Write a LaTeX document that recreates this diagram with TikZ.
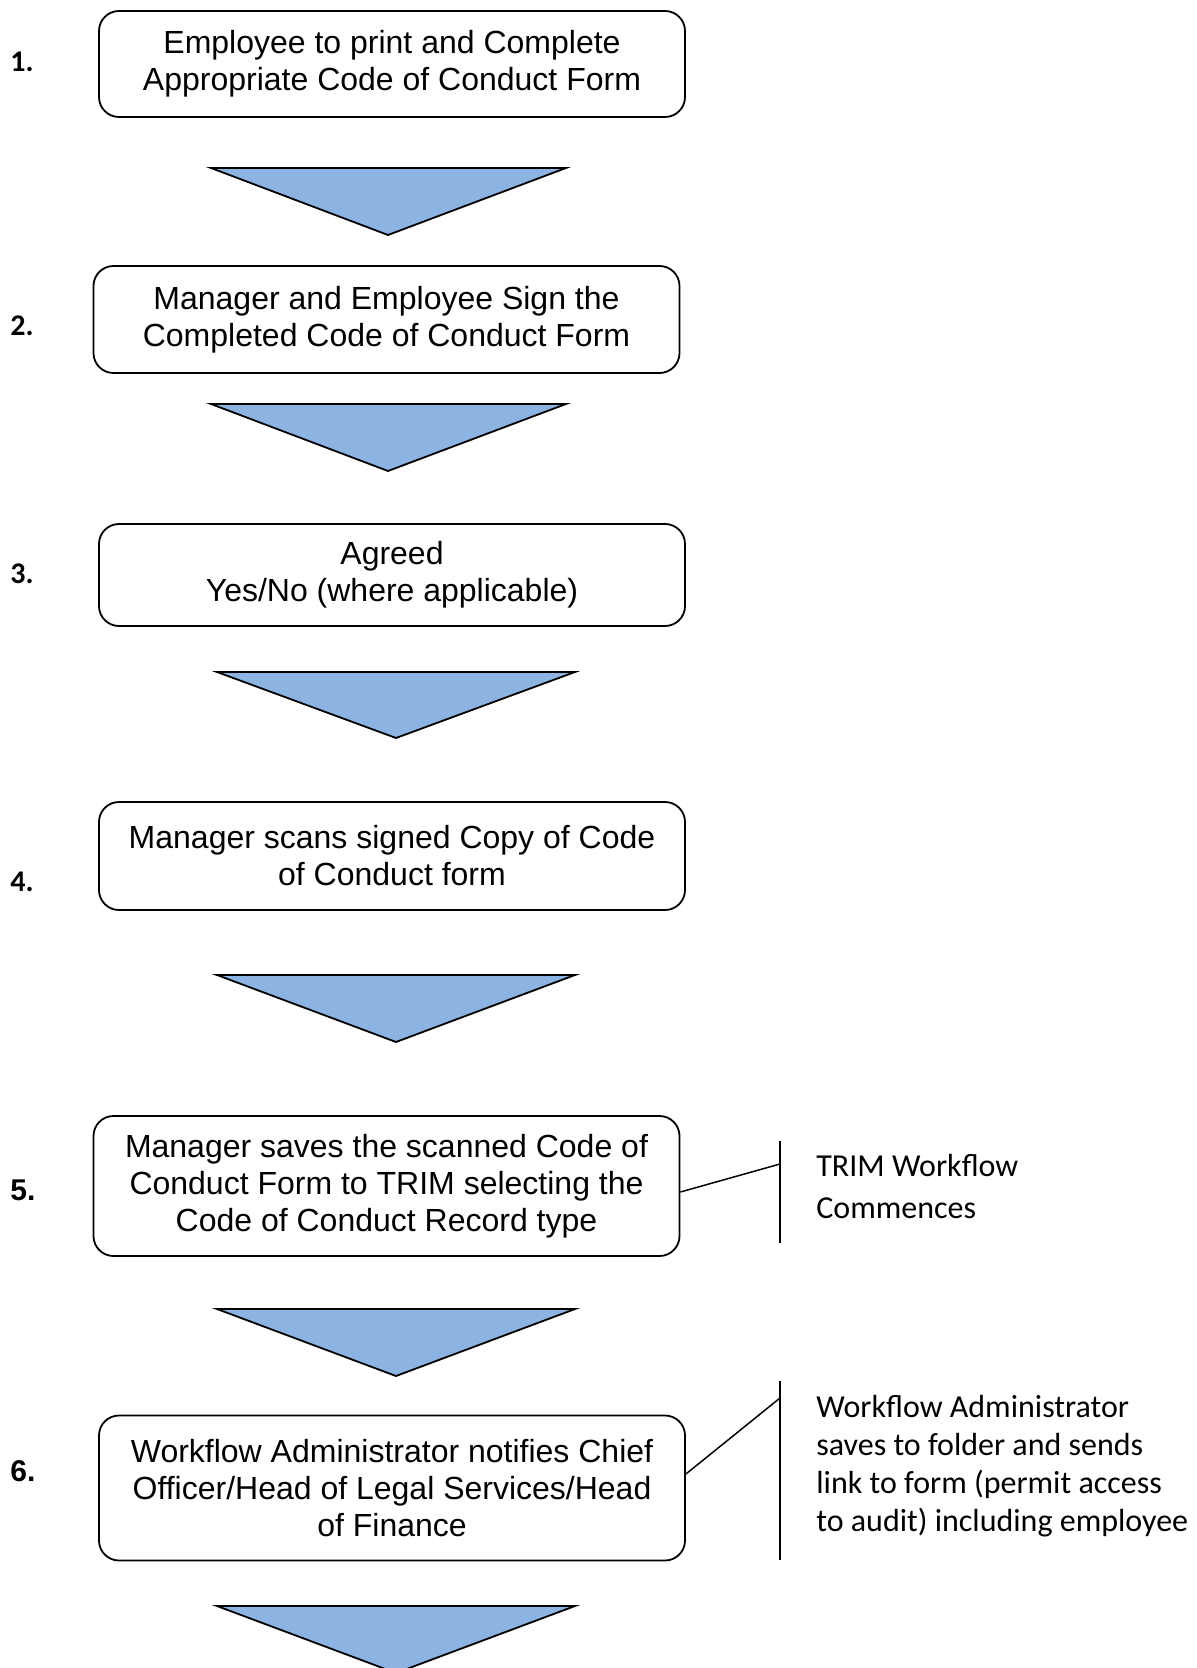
\documentclass[tikz,border=0pt]{standalone}
\usepackage{fontspec}
\setmainfont{Liberation Sans}
\newfontfamily\calibrifont{Carlito}
\definecolor{arrowblue}{RGB}{141,179,226}
\begin{document}
\begin{tikzpicture}[x=0.5pt, y=-0.5pt,
	stepbox/.style={draw, line width=0.9pt, rounded corners=10pt, align=center, inner sep=0pt, minimum width=293pt, font=\fontsize{16}{18.5}\selectfont},
	downtri/.style={draw, line width=0.9pt, fill=arrowblue, line join=miter},
	steplabel/.style={anchor=west, inner sep=0pt, font=\calibrifont\bfseries\fontsize{15}{17}\selectfont},
	steplabelb/.style={anchor=west, inner sep=0pt, font=\bfseries\fontsize{15}{17}\selectfont},
	notetext/.style={anchor=west, align=left, inner sep=0pt},
	noteline/.style={line width=0.75pt}]
	\clip (0,0) rectangle (1197,1668);
	
	% Steps
	\node[stepbox, minimum height=53pt] (box1) at (392,64) {Employee to print and Complete\\Appropriate Code of Conduct Form};
	\node[stepbox, minimum height=53.5pt] (box2) at (386.5,319.5) {Manager and Employee Sign the\\Completed Code of Conduct Form};
	\node[stepbox, minimum height=51pt] (box3) at (392,575) {Agreed\\Yes/No (where applicable)};
	\node[stepbox, minimum height=54pt] (box4) at (392,856) {Manager scans signed Copy of Code\\of Conduct form};
	\node[stepbox, minimum height=70pt] (box5) at (386.5,1186) {Manager saves the scanned Code of\\Conduct Form to TRIM selecting the\\Code of Conduct Record type};
	\node[stepbox, minimum height=72.5pt] (box6) at (392,1488) {Workflow Administrator notifies Chief\\Officer/Head of Legal Services/Head\\of Finance};
	
	% Numbers
	\node[steplabel] (num1) at (10,62) {1.};
	\node[steplabel] (num2) at (10,326) {2.};
	\node[steplabel] (num3) at (10,574) {3.};
	\node[steplabel] (num4) at (10,882) {4.};
	\node[steplabelb] (num5) at (10,1190) {5.};
	\node[steplabelb] (num6) at (10,1471) {6.};
	
	% Down arrows
	\draw[downtri] (211,168) -- (566,168) -- (388,235) -- cycle;
	\draw[downtri] (211,404) -- (566,404) -- (388,471) -- cycle;
	\draw[downtri] (217,672) -- (575,672) -- (396,738) -- cycle;
	\draw[downtri] (217,975) -- (575,975) -- (396,1042) -- cycle;
	\draw[downtri] (217,1309) -- (575,1309) -- (396,1376) -- cycle;
	\draw[downtri] (217,1606) -- (575,1606) -- (396,1673) -- cycle;
	
	% Notes
	\coordinate (join5) at (780,1164);
	\coordinate (join6) at (780,1398);
	\draw[noteline] (780,1141) -- (780,1243);
	\draw[noteline] (780,1381) -- (780,1560);
	\draw[noteline] ([yshift=-3pt]box5.east) -- (join5);
	\draw[noteline] ([yshift=7pt]box6.east) -- (join6);
	\node[notetext, font=\calibrifont\fontsize{16}{21}\selectfont] (note5) at (816,1186) {TRIM Workflow\\Commences};
	\node[notetext, font=\calibrifont\fontsize{16}{19}\selectfont] (note6) at (816,1466) {Workflow Administrator\\saves to folder and sends\\link to form (permit access\\to audit) including employee};
\end{tikzpicture}
\end{document}
